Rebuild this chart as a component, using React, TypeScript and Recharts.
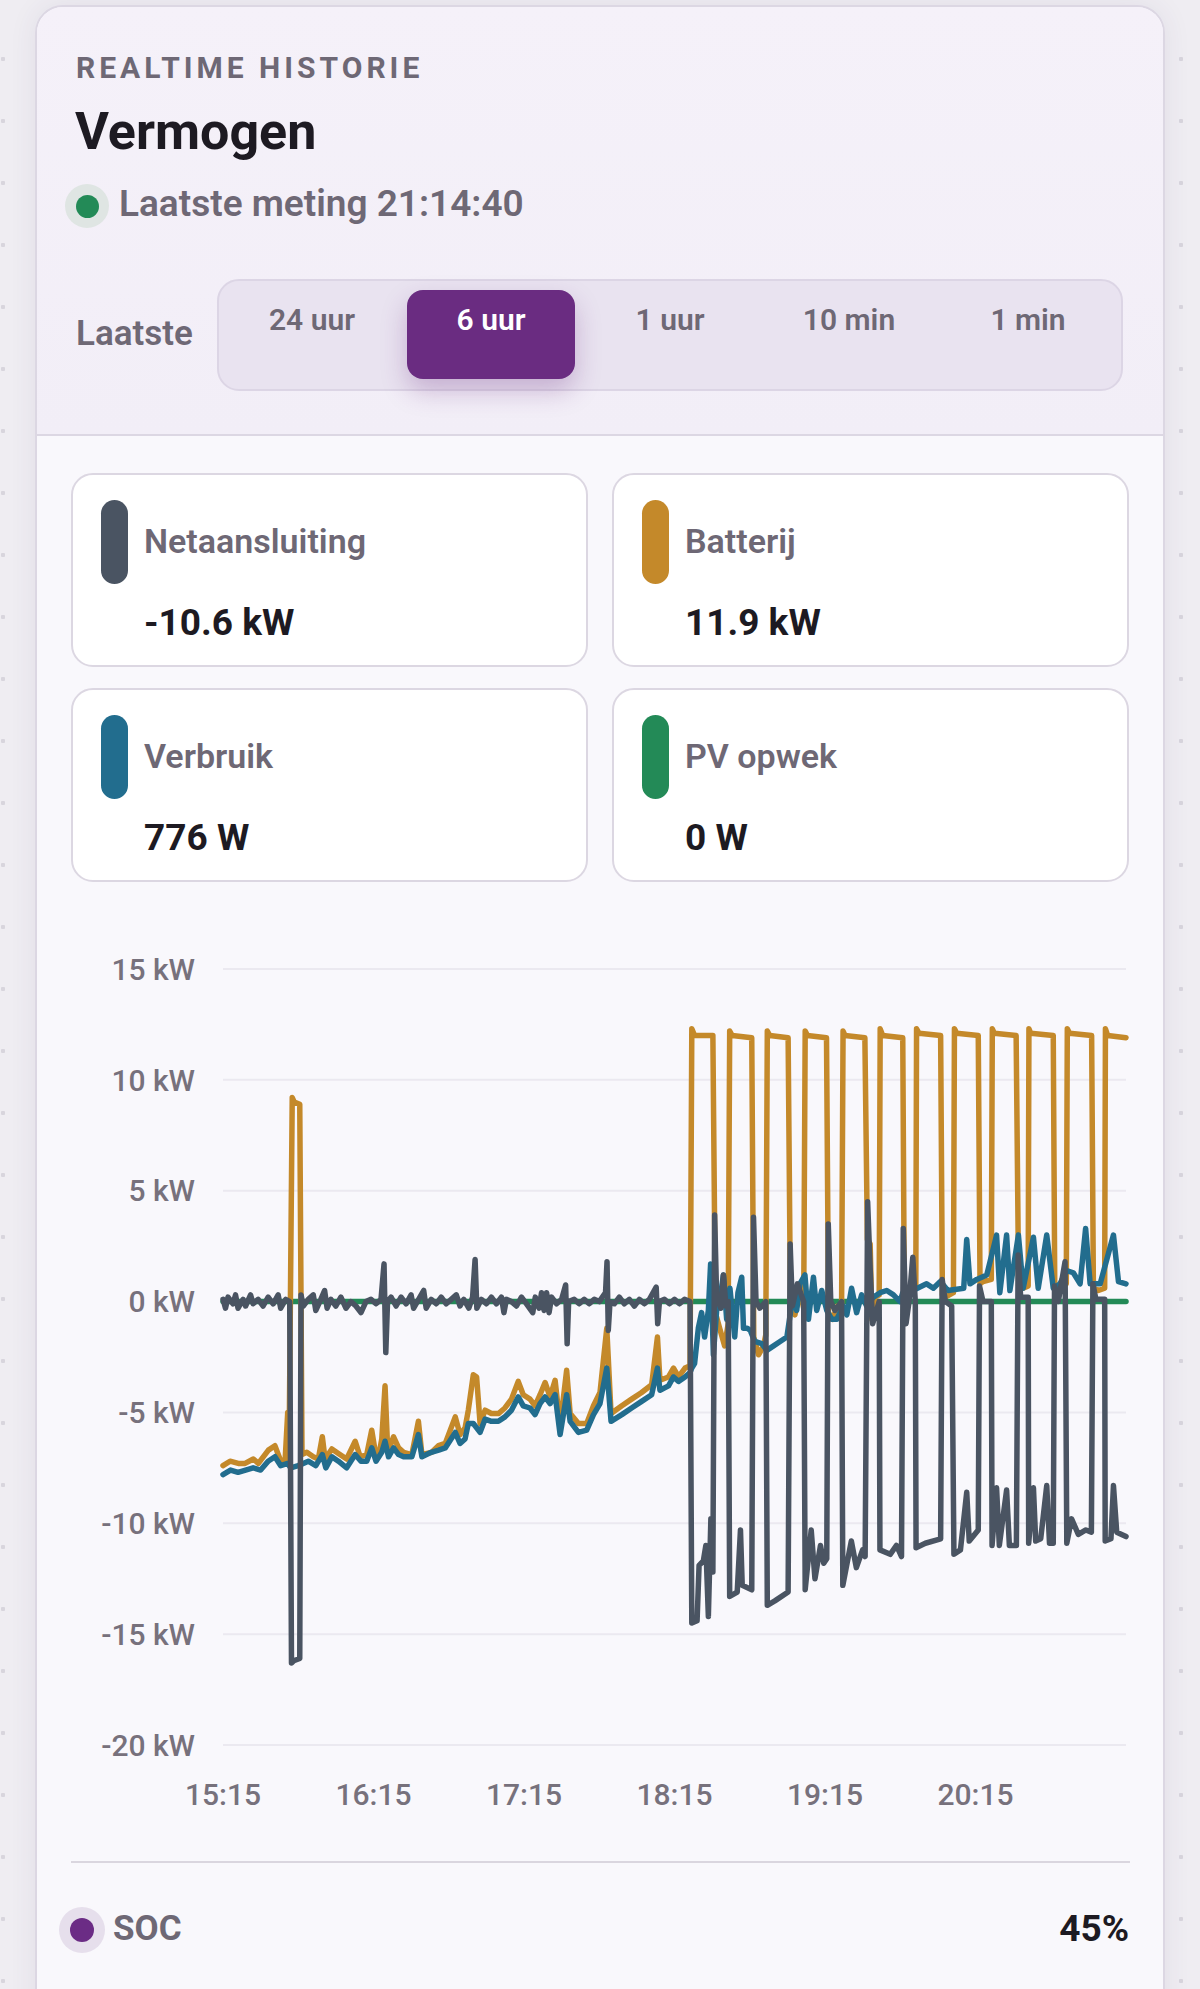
import { CartesianGrid, Line, LineChart, XAxis, YAxis } from 'recharts';

type Point = [number, number];

// minutes since 15:15, kW
const timeTicks = [0, 60, 120, 180, 240, 300];
const timeLabels = ['15:15', '16:15', '17:15', '18:15', '19:15', '20:15'];
const powerTicks = [-20, -15, -10, -5, 0, 5, 10, 15];
const ranges = ['24 uur', '6 uur', '1 uur', '10 min', '1 min'];

const netPoints: Point[] = [
  [0, 0.1], [1, -0.3], [2, 0.2], [4, -0.1], [5, 0.3], [6, -0.3], [8, 0.1], [9, -0.2], [11, 0.3],
  [12, -0.1], [14, 0.1], [16, -0.2], [18, 0.2], [20, -0.1], [22, 0.3], [23, -0.3], [25, 0.1],
  [26.6, 0.0], [27.3, -16.3], [28.2, -16.2], [30.6, -16.1], [31.1, 0.3], [32, -0.2], [34, 0.1],
  [36, 0.3], [37, -0.4], [39, 0.1], [40.5, 0.5], [41.5, -0.3], [43, 0.1], [45, -0.2], [47, 0.2],
  [49, -0.3], [51, 0.0], [53, -0.2], [55, -0.5], [57, 0.0], [59, 0.1], [61, -0.1], [63, 0.1],
  [64.2, 1.7], [64.9, -2.3], [65.6, 0.0], [67, 0.2], [69, -0.2], [71, 0.2], [73, -0.1], [75, 0.3],
  [76, -0.3], [78, 0.1], [80, 0.5], [81, -0.3], [83, 0.1], [85, -0.1], [87, 0.2], [89, -0.1],
  [91, 0.1], [93, 0.3], [94.5, -0.2], [96, 0.1], [98, -0.3], [99.5, 0.2], [100.5, 1.9],
  [101.2, -0.3], [103, 0.1], [105, -0.1], [107, 0.2], [109, -0.1], [111, 0.2], [112, -0.5],
  [113, 0.1], [115, 0.0], [117, -0.2], [119, 0.2], [121, -0.1], [123.5, -0.5], [124.5, 0.2],
  [126, -0.3], [127, 0.4], [128, -0.4], [129, 0.4], [130, -0.5], [131, 0.2], [133, -0.1],
  [135, 0.1], [136.6, 0.75], [137.2, -1.9], [137.8, 0.0], [140, 0.1], [142, -0.1], [144, 0.1],
  [146, -0.1], [148, 0.1], [150, 0.0], [152.5, 0.4], [153.1, 1.8], [153.6, -1.3], [154.3, 0.0],
  [156, -0.1], [158, 0.2], [160, -0.1], [162, 0.1], [164, -0.2], [166, 0.1], [168, -0.1],
  [170, 0.1], [172.7, 0.65], [173.3, -1.0], [174, 0.0], [176, 0.1], [178, -0.1], [180, 0.1],
  [182, -0.1], [184, 0.1], [186.2, 0.0],
  [186.9, -14.5], [189.0, -14.4], [189.8, -11.9], [191.5, -11.7], [192.5, -11.0], [193.5, -14.2],
  [194.5, -9.8], [195.3, -12.2], [196.0, 3.9], [196.8, 0.2], [198.5, -0.3], [199.5, 1.2],
  [200.5, -0.2], [201.4, 0.0], [202.0, -13.3], [205.0, -13.1], [206.3, -10.3], [207, -12.8],
  [210.8, -13.0], [211.5, 3.8], [212.5, 0.0], [214, -0.3], [216.4, 0.0], [217.0, -13.7],
  [220, -13.5], [225.3, -13.1], [226.1, 2.6], [227, -0.2], [229, 0.8], [231.5, 0.0],
  [232.1, -13.0], [234.5, -10.3], [236, -12.5], [238.2, -11.0], [239.5, -11.8], [240.7, -11.6],
  [241.3, 3.5], [242.3, 0.0], [244, -0.4], [246.6, 0.0], [247.1, -12.8], [250.5, -10.8],
  [252.5, -12.0], [255, -11.2], [256.0, -11.5], [257.0, 4.5], [258, 1.5], [259, -1.0],
  [261.6, 0.0], [261.9, -11.2], [266, -11.4], [268.5, -11.0], [270.5, -11.5], [271.2, 3.3],
  [272.3, -1.0], [273.5, 0.0], [275.0, 2.0], [276.0, 0.0], [276.3, -11.1], [280, -10.9],
  [286.1, -10.7], [286.7, 1.0], [288, 0.0], [290.5, -0.2], [291.4, -11.4], [294, -11.2],
  [296.5, -8.6], [297.5, -10.8], [301.1, -10.3], [301.6, 0.7], [303, 0.0], [306.3, 0.0],
  [306.6, -11.0], [308.4, -8.4], [309.5, -11.0], [312.4, -8.5], [313.5, -11.0], [316.3, -11.0],
  [317.0, 2.1], [318, 0.2], [321, 0.2], [321.2, -10.9], [323.1, -8.4], [324, -10.8],
  [326, -10.7], [328.4, -8.3], [329.5, -10.9], [331.0, -10.9], [331.5, 0.7], [333, 0.0],
  [335.7, 1.8], [336.4, -10.9], [338.3, -9.8], [341, -10.5], [344, -10.3], [346.2, -10.4],
  [346.8, 0.8], [348, 0.1], [351.5, 0.1], [351.7, -10.8], [354, -10.7], [355.0, -8.3],
  [356.3, -10.4], [360, -10.6],
];

const batteryPoints: Point[] = [
  [0, -7.4], [2.8, -7.2], [6.1, -7.3], [8.8, -7.3], [12.1, -7.1], [14.1, -7.3], [18.1, -6.7],
  [20.7, -6.5], [22.7, -7.1], [24.7, -7.3], [25.8, -5.0], [26.3, -7.1], [27.6, 9.2], [28.4, 9.0],
  [30.6, 8.9], [31.5, -6.9], [33.4, -6.8], [36, -7.0], [38, -7.1], [39.6, -6.1], [40.7, -7.1],
  [43.4, -6.65], [46, -6.85], [49.3, -7.1], [52.7, -6.3], [54.7, -7.0], [57.3, -6.9], [59.3, -5.8],
  [60.6, -6.7], [62, -7.0], [63.3, -6.2], [64.6, -3.8], [65.7, -6.8], [68, -6.1], [70, -6.6],
  [72, -6.8], [75.3, -6.9], [77.9, -5.4], [79.3, -6.9], [83.2, -6.8], [85.9, -6.5], [88.6, -6.4],
  [92.6, -5.2], [94.5, -6.0], [96.5, -5.7], [97.8, -4.9], [99.8, -3.3], [101.1, -3.4],
  [102.5, -5.5], [104.5, -4.9], [107, -5.05], [109.8, -5.05], [112.4, -4.8], [115, -4.4],
  [117.7, -3.6], [119.7, -4.2], [122.4, -4.4], [124.4, -4.7], [126.4, -4.2], [128.4, -3.65],
  [130.4, -4.3], [132.4, -3.55], [134.4, -5.6], [137, -3.1], [138.4, -5.05], [141.7, -5.5],
  [145, -5.5], [147.7, -4.7], [150.3, -4.1], [153, -1.2], [154.7, -5.05], [159, -4.7],
  [162.9, -4.4], [166.9, -4.1], [170.9, -3.75], [173.2, -1.6], [174.2, -3.55], [177.6, -3.4],
  [179.6, -3.0], [181.6, -3.4], [184.2, -3.0], [186.2, -2.9],
  [186.9, 12.3], [188, 12.0], [195.3, 12.0], [196.3, -0.5], [198, -1.2], [200, -2.0],
  [201.4, -1.0], [202.0, 12.2], [203, 12.0], [210.8, 11.9], [211.6, -1.6], [213.5, -2.4],
  [215.5, -2.0], [216.4, -1.5], [217.0, 12.2], [218, 12.0], [225.3, 11.9], [226.2, 0.2],
  [228, -0.6], [230, 0.5], [231.5, -0.3], [232.1, 12.2], [233, 12.0], [240.6, 11.9],
  [241.4, -0.5], [243, -0.8], [245, -0.2], [246.6, -0.5], [247.2, 12.2], [248, 12.0],
  [255.9, 11.9], [256.9, 2.8], [258, 2.6], [258.7, -0.8], [260, 0.2], [261.6, 0.3],
  [262.0, 12.3], [263, 12.0], [271.0, 11.9], [271.6, 0.5], [273, 0.4], [275, 0.6], [276.2, 0.6],
  [276.5, 12.3], [277.5, 12.1], [286.1, 12.0], [286.8, 0.3], [288, 0.2], [291.2, 0.4],
  [291.6, 12.3], [292.5, 12.1], [301.1, 12.0], [301.8, 0.8], [303, 0.9], [306.3, 1.0],
  [306.7, 12.3], [307.5, 12.1], [316.2, 12.0], [317.2, 0.7], [319, 0.6], [321, 0.7],
  [321.3, 12.3], [322, 12.1], [331.0, 12.0], [331.6, 0.6], [334, 0.7], [336.2, 0.8],
  [336.6, 12.3], [337.5, 12.1], [346.3, 12.0], [347, 0.6], [349, 0.5], [351.5, 0.6],
  [351.8, 12.3], [352.7, 12.0], [360, 11.9],
];

const usePoints: Point[] = [
  [0, -7.8], [3, -7.6], [6, -7.7], [9, -7.6], [12, -7.5], [15, -7.6], [18, -7.2], [20.7, -7.0],
  [23, -7.4], [25.8, -7.3], [27, -7.5], [30, -7.4], [32, -7.3], [34, -7.2], [37, -7.4],
  [39.6, -6.9], [41, -7.5], [43.4, -7.0], [46, -7.2], [49.3, -7.5], [52.7, -6.9], [55, -7.2],
  [57.3, -7.2], [59.3, -6.6], [61, -7.2], [63.3, -6.8], [64.6, -6.3], [66, -7.0], [68, -6.6],
  [70, -6.9], [72, -7.0], [75.3, -7.0], [77.9, -6.0], [79.3, -7.0], [83, -6.8], [86, -6.7],
  [88.6, -6.6], [92.6, -5.9], [94.5, -6.4], [96.5, -6.2], [97.8, -5.5], [99.8, -5.5],
  [102.5, -5.9], [104.5, -5.3], [107, -5.4], [109.8, -5.4], [112.4, -5.2], [115, -4.9],
  [117.7, -4.3], [119.7, -4.7], [122.4, -4.8], [124.4, -5.1], [126.4, -4.6], [128.4, -4.3],
  [130.4, -4.6], [132.4, -4.2], [134.4, -6.0], [137, -4.2], [138.4, -5.4], [141.7, -5.9],
  [145, -5.8], [147.7, -5.1], [150.3, -4.6], [153, -3.0], [154.7, -5.4], [159, -5.1],
  [162.9, -4.8], [166.9, -4.5], [170.9, -4.2], [173.2, -3.0], [174.2, -4.0], [177.6, -3.8],
  [179.6, -3.4], [181.6, -3.6], [184.2, -3.4], [186.2, -3.2],
  [186.9, -3.0], [188, -2.8], [189.5, -1.2], [190.8, -0.5], [192, -1.6], [193.5, -0.4],
  [194.4, 1.7], [195.5, -2.4], [196.8, -0.4], [198, 0.0], [199.5, 1.2], [200.8, -0.8],
  [202.1, 0.6], [204, -1.6], [205.3, 0.4], [206.8, 1.1], [207.5, -1.2], [209, -1.2],
  [210.2, -1.3], [212, -1.8], [214.8, -1.9], [216.8, -2.2], [219.5, -2.0], [222.1, -1.8],
  [224.8, -1.6], [227.4, 0.4], [228.7, -0.4], [230, 0.8], [232, 1.2], [233.4, -0.8],
  [235.4, 1.1], [236.7, -0.4], [238.7, 0.5], [240.7, -0.4], [242.7, -0.8], [244.7, -0.8],
  [247.3, -0.2], [248.7, -0.6], [250.6, 0.6], [252.6, -0.5], [254.6, 0.3], [256.6, -0.2],
  [259.3, 0.2], [262, 0.4], [264.6, 0.5], [267.3, 0.3], [269.9, 0.0], [271, 0.4], [273, 0.4],
  [275, 0.5], [280.5, 0.8], [283.2, 0.6], [286, 0.9], [289, 0.5], [295.3, 0.6], [296.5, 2.8],
  [297.8, 0.8], [300.5, 1.0], [304.5, 1.2], [308.4, 3.0], [309.7, 0.4], [312.4, 3.0],
  [313.7, 0.5], [317.1, 3.0], [319, 0.6], [323.1, 2.9], [325, 0.6], [328.4, 3.0], [331, 0.6],
  [333.7, 0.8], [336.3, 1.4], [339, 1.3], [341.7, 0.8], [343.9, 3.3], [345.7, 0.8],
  [349.7, 0.8], [355.0, 3.0], [357, 0.9], [360, 0.8],
];

const pvPoints: Point[] = [
  [0, 0], [360, 0],
];

const stats = [
  { label: 'Netaansluiting', value: '-10.6 kW', color: '#4a5462' },
  { label: 'Batterij', value: '11.9 kW', color: '#c4892a' },
  { label: 'Verbruik', value: '776 W', color: '#226d8e' },
  { label: 'PV opwek', value: '0 W', color: '#238a57' },
];

// drawing order: pv under everything, grid on top
const series = [
  { key: 'pv', color: '#238a57', points: pvPoints },
  { key: 'battery', color: '#c4892a', points: batteryPoints },
  { key: 'use', color: '#226d8e', points: usePoints },
  { key: 'net', color: '#4a5462', points: netPoints },
];

const font = 'Roboto, "Noto Sans", sans-serif';
const muted = '#6e6875';
const dark = '#1d1a22';

const abs = (left: number, top: number, extra: React.CSSProperties = {}): React.CSSProperties => ({
  position: 'absolute',
  left,
  top,
  ...extra,
});

const StatCard = ({ stat, left, top }: { stat: (typeof stats)[number]; left: number; top: number }) => (
  <div
    style={abs(left, top, {
      width: 517,
      height: 194,
      boxSizing: 'border-box',
      background: '#ffffff',
      border: '2px solid #dcd7e2',
      borderRadius: 22,
    })}
  >
    <div style={abs(28, 25, { width: 27, height: 84, borderRadius: 14, background: stat.color })} />
    <div style={abs(71, 46, { fontSize: 34, fontWeight: 600, color: muted, lineHeight: '40px' })}>
      {stat.label}
    </div>
    <div style={abs(71, 126, { fontSize: 37, fontWeight: 700, color: dark, lineHeight: '44px' })}>
      {stat.value}
    </div>
  </div>
);

export default function App() {
  return (
    <div
      style={{
        position: 'absolute',
        left: 0,
        top: 0,
        width: 1200,
        height: 1989,
        overflow: 'hidden',
        fontFamily: font,
        backgroundColor: '#efedf2',
        backgroundImage: 'radial-gradient(circle, #d8d5dd 2px, transparent 2.5px)',
        backgroundSize: '62px 62px',
        backgroundPosition: '-28px -34px',
      }}
    >
      {/* card */}
      <div
        style={abs(35, 5, {
          width: 1130,
          height: 2100,
          boxSizing: 'border-box',
          border: '2px solid #dcd7e3',
          borderRadius: 28,
          background: '#f9f8fc',
          overflow: 'hidden',
          boxShadow: '0 0 28px rgba(70, 50, 100, 0.08)',
        })}
      >
        <div
          style={{
            height: 427,
            background: 'linear-gradient(#f5f1f9, #f2eef7)',
            borderBottom: '2px solid #dcd7e3',
          }}
        />
      </div>

      <div
        style={abs(76, 50, {
          fontSize: 30,
          fontWeight: 700,
          letterSpacing: 4,
          color: muted,
          lineHeight: '36px',
        })}
      >
        REALTIME HISTORIE
      </div>
      <div style={abs(75, 102, { fontSize: 52, fontWeight: 700, color: dark, lineHeight: '60px' })}>
        Vermogen
      </div>

      <div style={abs(65, 184, { width: 44, height: 44, borderRadius: 22, background: '#dfe5e3' })} />
      <div style={abs(76, 195, { width: 23, height: 23, borderRadius: 12, background: '#238a57' })} />
      <div style={abs(119, 183, { fontSize: 37, fontWeight: 600, color: muted, lineHeight: '42px' })}>
        Laatste meting 21:14:40
      </div>

      <div style={abs(76, 313, { fontSize: 35, fontWeight: 600, color: muted, lineHeight: '42px' })}>
        Laatste
      </div>
      <div
        style={abs(217, 279, {
          width: 906,
          height: 112,
          boxSizing: 'border-box',
          background: '#e9e3f0',
          border: '2px solid #dcd5e5',
          borderRadius: 22,
        })}
      />
      {ranges.map((r, i) => {
        const active = r === '6 uur';
        return (
          <div
            key={r}
            style={abs(228 + i * 179, 290, {
              width: 168,
              height: 89,
              boxSizing: 'border-box',
              paddingTop: 12,
              borderRadius: 16,
              textAlign: 'center',
              fontSize: 30,
              fontWeight: 600,
              lineHeight: '36px',
              color: active ? '#ffffff' : muted,
              background: active ? '#6a2c81' : 'transparent',
              boxShadow: active ? '0 12px 26px rgba(106, 44, 129, 0.28)' : 'none',
            })}
          >
            {r}
          </div>
        );
      })}

      {stats.map((s, i) => (
        <StatCard key={s.label} stat={s} left={i % 2 === 0 ? 71 : 612} top={i < 2 ? 473 : 688} />
      ))}

      <div style={abs(0, 900)}>
        <LineChart width={1200} height={920} margin={{ top: 69, right: 74, bottom: 15, left: 73 }}>
          <CartesianGrid vertical={false} stroke='#ebe9f0' strokeWidth={2} />
          <XAxis
            type='number'
            dataKey='t'
            domain={[0, 360]}
            ticks={timeTicks}
            tickFormatter={(v: number) => timeLabels[timeTicks.indexOf(v)] ?? ''}
            axisLine={false}
            tickLine={false}
            tickSize={0}
            tickMargin={39}
            height={60}
            tick={{ fontSize: 30, fontWeight: 500, fill: '#77717c', fontFamily: font }}
          />
          <YAxis
            type='number'
            domain={[-20, 15]}
            ticks={powerTicks}
            tickFormatter={(v: number) => `${v} kW`}
            axisLine={false}
            tickLine={false}
            tickSize={0}
            tickMargin={28}
            width={150}
            tick={{ fontSize: 30, fontWeight: 500, fill: '#77717c', fontFamily: font }}
          />
          {series.map((s) => (
            <Line
              key={s.key}
              data={s.points.map(([t, v]) => ({ t, v }))}
              dataKey='v'
              type='linear'
              stroke={s.color}
              strokeWidth={5.5}
              strokeLinejoin='round'
              strokeLinecap='round'
              dot={false}
              activeDot={false}
              isAnimationActive={false}
            />
          ))}
        </LineChart>
      </div>

      <div style={abs(71, 1861, { width: 1059, height: 2, background: '#dad6df' })} />
      <div style={abs(59, 1907, { width: 46, height: 46, borderRadius: 23, background: '#e6dfec' })} />
      <div style={abs(70, 1918, { width: 24, height: 24, borderRadius: 12, background: '#6b2c85' })} />
      <div style={abs(113, 1908, { fontSize: 35, fontWeight: 700, color: muted, lineHeight: '42px' })}>
        SOC
      </div>
      <div
        style={abs(900, 1908, {
          width: 229,
          textAlign: 'right',
          fontSize: 37,
          fontWeight: 700,
          color: dark,
          lineHeight: '42px',
        })}
      >
        45%
      </div>
    </div>
  );
}
